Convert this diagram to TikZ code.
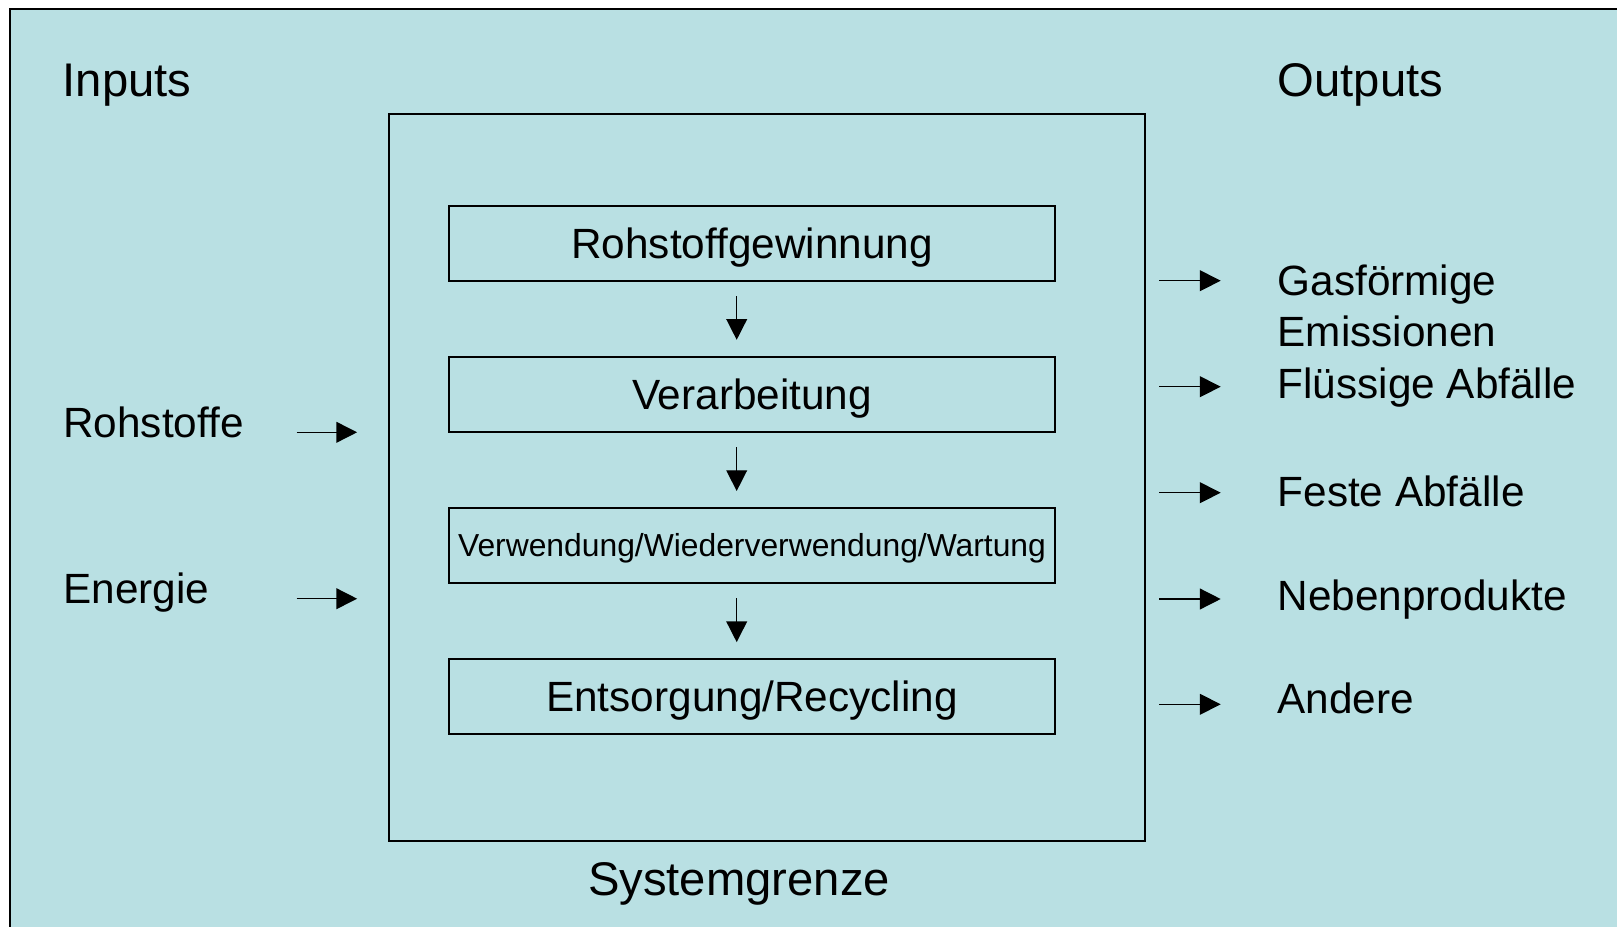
\documentclass[tikz,border=0pt]{standalone}
\usepackage{fontspec}
\setmainfont{Liberation Sans}
\usetikzlibrary{arrows.meta, calc}
\definecolor{lcaBack}{HTML}{B9E0E3}

\begin{document}
\begin{tikzpicture}[x=0.01cm, y=-0.01cm,
  stage/.style={draw, line width=0.55pt, minimum width=6.05cm, minimum height=0.75cm,
    inner sep=0pt, text height=8.6pt, text depth=0pt, font=\fontsize{12.03}{14.6}\selectfont},
  lbl/.style={anchor=base west, inner sep=0pt, font=\fontsize{12.03}{14.57}\selectfont},
  head/.style={anchor=base west, inner sep=0pt, font=\fontsize{13.43}{16}\selectfont},
  flow/.style={-{Triangle[length=5.9pt, width=5.9pt]}, line width=0.4pt}]
  \useasboundingbox (0,0) rectangle (1617,927);
  \fill[lcaBack] (10,9) rectangle (1617,927);
  \draw[line width=0.6pt] (10,927) -- (10,9) -- (1617,9);

  \node[draw, line width=0.55pt, minimum width=7.56cm, minimum height=7.26cm, inner sep=0pt] (sys) at (767,477.5) {};
  \node[stage] (s1) at (752,243.2) {Rohstoffgewinnung};
  \node[stage] (s2) at (752,394.3) {Verarbeitung};
  \node[stage, text height=6.5pt, font=\fontsize{9.05}{11}\selectfont] (s3) at (752,545.5) {Verwendung/Wiederverwendung/Wartung};
  \node[stage] (s4) at (752,696.6) {Entsorgung/Recycling};
  \draw[flow] ($(s1.south)+(-15.3,14.5)$) -- ($(s2.north)+(-15.3,-16)$);
  \draw[flow] ($(s2.south)+(-15.3,14.5)$) -- ($(s3.north)+(-15.3,-16)$);
  \draw[flow] ($(s3.south)+(-15.3,14.5)$) -- ($(s4.north)+(-15.3,-16)$);

  \node[head] (inputs) at (62,96.7) {Inputs};
  \node[head] (outputs) at (1277,96.5) {Outputs};
  \node[head, anchor=base] (grenze) at (739,895) {Systemgrenze};

  \node[lbl] (rohstoffe) at (62.7,437.3) {Rohstoffe};
  \node[lbl] (energie) at (62.7,603.3) {Energie};
  \draw[flow] ($(rohstoffe.base -| sys.west)+(-91.3,-5)$) -- ($(rohstoffe.base -| sys.west)+(-30.7,-5)$);
  \draw[flow] ($(energie.base -| sys.west)+(-91.3,-4.6)$) -- ($(energie.base -| sys.west)+(-30.7,-4.6)$);

  \node[lbl, align=left] (gas) at (1277,346.7) {Gasförmige\\Emissionen};
  \node[lbl] (fluessig) at (1277,398.3) {Flüssige Abfälle};
  \node[lbl] (fest) at (1277,506.7) {Feste Abfälle};
  \node[lbl] (neben) at (1277,610) {Nebenprodukte};
  \node[lbl] (andere) at (1277,713.3) {Andere};
  \draw[flow] ($(gas.base west)+(-117.7,-66)$) -- ($(gas.base west)+(-56.3,-66)$);
  \draw[flow] ($(fluessig.base west)+(-117.7,-11.6)$) -- ($(fluessig.base west)+(-56.3,-11.6)$);
  \draw[flow] ($(fest.base west)+(-117.7,-14)$) -- ($(fest.base west)+(-56.3,-14)$);
  \draw[flow] ($(neben.base west)+(-117.7,-11)$) -- ($(neben.base west)+(-56.3,-11)$);
  \draw[flow] ($(andere.base west)+(-117.7,-9)$) -- ($(andere.base west)+(-56.3,-9)$);
\end{tikzpicture}
\end{document}
